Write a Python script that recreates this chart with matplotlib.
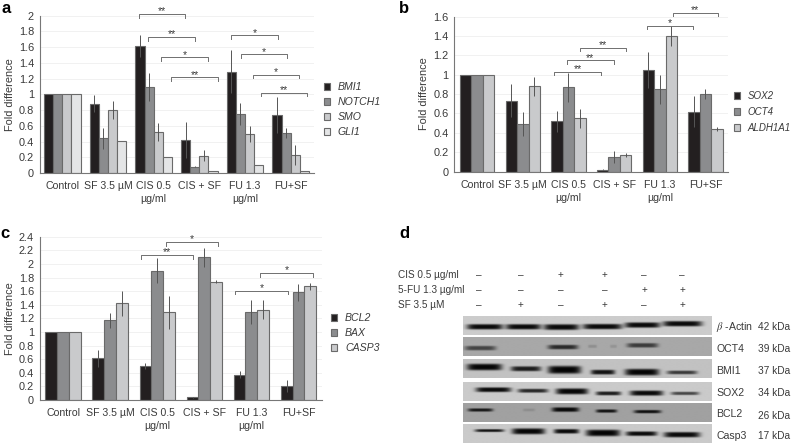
import numpy as np
from matplotlib import pyplot as plt

plt.rcParams['font.family'] = ['Liberation Sans', 'DejaVu Sans']
plt.rcParams['mathtext.fontset'] = 'stix'

W, H = 791, 443
TXT = '#3a3a3a'
COLS = ['#231f20', '#8b8c8e', '#c9cacc', '#e4e5e6']
FS = 7.9
FS_X = 7.6

groups = ['Control', 'SF 3.5 µM', 'CIS 0.5\nµg/ml', 'CIS + SF', 'FU 1.3\nµg/ml', 'FU+SF']

# panel a
a_names = ['BMI1', 'NOTCH1', 'SMO', 'GLI1']
a_vals = [[1, .88, 1.61, .42, 1.29, .74],
          [1, .44, 1.09, .08, .75, .51],
          [1, .80, .52, .22, .50, .23],
          [1, .41, .20, .03, .10, .02]]
a_errs = [[0, .11, .14, .23, .27, .23],
          [0, .13, .18, .01, .14, .06],
          [0, .11, .11, .07, .10, .13],
          [0, 0, 0, 0, 0, 0]]
a_brackets = [(1.67, 2.69, 2.02, '**'), (1.88, 2.91, 1.725, '**'),
              (2.17, 3.18, 1.47, '*'), (2.39, 3.41, 1.216, '**'),
              (3.70, 4.72, 1.75, '*'), (3.91, 4.92, 1.508, '*'),
              (4.18, 5.19, 1.246, '*'), (4.35, 5.36, 1.02, '**')]

# panel b
b_names = ['SOX2', 'OCT4', 'ALDH1A1']
b_vals = [[1, .73, .52, .02, 1.05, .62],
          [1, .49, .87, .15, .85, .80],
          [1, .88, .55, .17, 1.40, .44]]
b_errs = [[0, .17, .11, .005, .19, .16],
          [0, .12, .15, .06, .15, .05],
          [0, .10, .10, .02, .10, .02]]
b_brackets = [(1.69, 2.71, 1.03, '**'), (1.96, 2.99, 1.148, '**'),
              (2.25, 3.26, 1.279, '**'), (3.73, 4.73, 1.507, '*'),
              (4.29, 5.27, 1.638, '**')]

# panel c
c_names = ['BCL2', 'BAX', 'CASP3']
c_vals = [[1, .61, .50, .04, .37, .21],
          [1, 1.17, 1.90, 2.10, 1.29, 1.58],
          [1, 1.42, 1.29, 1.74, 1.33, 1.67]]
c_errs = [[0, .13, .04, .01, .05, .09],
          [0, .11, .18, .14, .18, .12],
          [0, .18, .24, .02, .14, .05]]
c_brackets = [(1.65, 2.77, 2.126, '**'), (2.18, 3.30, 2.32, '*'),
              (3.66, 4.77, 1.608, '*'), (4.19, 5.30, 1.867, '*')]

# panel d
d_treat = ['CIS 0.5 µg/ml', '5-FU 1.3 µg/ml', 'SF 3.5 µM']
d_signs = [['–', '–', '+', '+', '–', '–'],
           ['–', '–', '–', '–', '+', '+'],
           ['–', '+', '–', '+', '–', '+']]
d_proteins = [r'$\beta$ -Actin', 'OCT4', 'BMI1', 'SOX2', 'BCL2', 'Casp3']
d_kda = ['42 kDa', '39 kDa', '37 kDa', '34 kDa', '26 kDa', '17 kDa']
d_back = [.80, .66, .76, .79, .63, .79]
# bands: left, right, centre y, half thickness (px), darkness
d_bands = [
    [(467, 503, 326.7, 2.6, .95), (506, 541, 326.7, 2.6, .95), (544, 579, 327, 2.8, .95),
     (583, 622, 326.5, 2.6, .95), (625, 660, 325, 2.6, .95), (663, 702, 323.7, 2.6, .95)],
    [(465, 496, 348.7, 2.2, .6), (548, 578, 347.7, 2.2, .75), (588, 597, 347, 1.6, .15),
     (610, 617, 347, 1.6, .12), (627, 658, 346, 2.2, .65)],
    [(467, 502, 367, 3.2, .97), (511, 541, 368.7, 2.4, .85), (548, 581, 369.7, 3.8, .98),
     (591, 615, 372, 2.3, .9), (625, 659, 372, 3.2, .97), (667, 697, 372.3, 1.8, .7)],
    [(476, 511, 389.7, 2.3, .95), (518, 548, 390.7, 1.9, .8), (556, 588, 391.3, 2.9, .97),
     (596, 621, 393.3, 1.9, .85), (630, 663, 393, 2.5, .95), (671, 699, 393.3, 1.6, .65)],
    [(468, 493, 410.7, 1.6, .85), (523, 535, 410.7, 1.4, .12), (552, 579, 410.3, 2.2, .95),
     (596, 617, 411.7, 1.6, .88), (634, 661, 412.3, 1.6, .9)],
    [(475, 504, 431, 1.4, .9), (512, 545, 431.7, 2.9, .97), (554, 579, 431.7, 2.2, .95),
     (586, 620, 433.3, 3.2, .98), (626, 657, 434, 2.2, .95), (664, 700, 435, 2.6, .95)],
]


def px_axes(left, right, top, bottom):
    return fig.add_axes([left / W, 1 - bottom / H, (right - left) / W, (bottom - top) / H])


def bar_panel(box, vals, errs, names, brackets, ymax, legend_xy, legend_fs=FS_X, legend_gap=0.47):
    ax = px_axes(*box)
    n = len(vals)
    w = 0.8 / n if n == 4 else 0.25
    x = np.arange(6)
    for i in range(n):
        xp = x + (i - (n - 1) / 2) * w
        ax.bar(xp, vals[i], w, color=COLS[i], edgecolor='#6a6a6a', linewidth=0.8,
               label=names[i], zorder=2)
        e = np.array(errs[i])
        m = e > 0
        ax.errorbar(xp[m], np.array(vals[i])[m], yerr=e[m], fmt='none', ecolor='#555555',
                    elinewidth=0.7, zorder=3)
    ax.set_xlim(-0.5, 5.5)
    ax.set_ylim(0, ymax)
    ticks = np.arange(0, ymax + 0.001, .2)
    ax.set_yticks(ticks)
    ax.set_yticklabels([('%.1f' % t).rstrip('0').rstrip('.') if t else '0' for t in ticks],
                       fontsize=FS, color=TXT)
    ax.set_xticks(x)
    ax.set_xticklabels(groups, fontsize=FS_X, color=TXT, linespacing=1.35, va='top')
    ax.tick_params(axis='both', length=0)
    ax.tick_params(axis='x', pad=6)
    ax.tick_params(axis='y', pad=4)
    ax.set_ylabel('Fold difference', fontsize=FS, color=TXT, labelpad=3)
    ax.grid(axis='y', color='#efefef', linewidth=0.6, zorder=0)
    ax.set_axisbelow(True)
    for s in ['top', 'right']:
        ax.spines[s].set_visible(False)
    for s in ['left', 'bottom']:
        ax.spines[s].set_color('#777777')
        ax.spines[s].set_linewidth(0.8)
    drop = ymax * 0.022
    for x0, x1, y, star in brackets:
        ax.plot([x0, x0, x1, x1], [y - drop, y, y, y - drop], color='#6f6f6f', lw=0.7,
                clip_on=False, zorder=4)
        ax.annotate(star, ((x0 + x1) / 2, y), xytext=(0, 2), textcoords='offset points',
                    ha='center', va='center', fontsize=7.5, color=TXT, zorder=5,
                    annotation_clip=False)
    handles, labels = ax.get_legend_handles_labels()
    fig.legend(handles, labels, loc='upper left', frameon=False,
               prop={'style': 'italic', 'size': legend_fs},
               bbox_to_anchor=(legend_xy[0] / W, 1 - legend_xy[1] / H),
               handlelength=0.6 * FS_X / legend_fs, handleheight=0.6 * FS_X / legend_fs,
               handletextpad=0.72 * FS_X / legend_fs,
               labelspacing=legend_gap, borderpad=0, borderaxespad=0, labelcolor=TXT)
    return ax


fig = plt.figure(figsize=(W / 100, H / 100), dpi=100, facecolor='white')

bar_panel((39.5, 313.5, 15.7, 173), a_vals, a_errs, a_names, a_brackets, 2, (324, 82))
bar_panel((454.3, 728.3, 16.7, 171.5), b_vals, b_errs, b_names, b_brackets, 1.6, (733.5, 91),
          legend_fs=7.0, legend_gap=0.62)
bar_panel((39.5, 322, 236.7, 400), c_vals, c_errs, c_names, c_brackets, 2.4, (331, 313))

# overlay in pixel coordinates for panel letters and the blot
ov = fig.add_axes([0, 0, 1, 1], facecolor='none')

for lab, lx, ly in [('a', 1, 8), ('b', 399, 8), ('c', 0, 233), ('d', 399, 233)]:
    ov.text(lx, ly, lab, fontsize=12, fontweight='bold', color='black', va='center', ha='left')

sign_x = [479, 521, 561, 605, 644, 682]
for row, (name, sy) in enumerate(zip(d_treat, [275, 290, 305])):
    ov.text(398, sy, name, fontsize=7.2, color=TXT, va='center', ha='left')
    for sx, s in zip(sign_x, d_signs[row]):
        ov.text(sx, sy, s, fontsize=7.2, color=TXT, va='center', ha='center')

row_top = [316.3, 338, 359.3, 382.3, 404, 424.7]
row_h = 18.3
blot_l, blot_r = 463.3, 711.7
label_y = [327.5, 349, 371, 393, 414, 436]
kda_y = [327.5, 348.5, 371, 393.5, 416, 436]
for r in range(6):
    xs = np.linspace(blot_l, blot_r, 497)
    ys = np.linspace(row_top[r], row_top[r] + row_h, 74)
    xx, yy = np.meshgrid(xs, ys)
    img = np.full(xx.shape, d_back[r], dtype=float)
    for x0, x1, yc, thick, dark in d_bands[r]:
        mid, half = (x0 + x1) / 2, (x1 - x0) / 2
        band = np.exp(-((xx - mid) / half) ** 6) * np.exp(-((yy - yc) / thick) ** 4)
        img = img * (1 - dark * band)
    ov.imshow(img, extent=(blot_l, blot_r, row_top[r] + row_h, row_top[r]), cmap='gray',
              vmin=0, vmax=1, aspect='auto', interpolation='bilinear', zorder=1)
    ov.text(716.5, label_y[r], d_proteins[r], fontsize=FS_X, color=TXT, va='center', ha='left')
    ov.text(758, kda_y[r], d_kda[r], fontsize=7.3, color=TXT, va='center', ha='left')
ov.set_xlim(0, W)
ov.set_ylim(H, 0)
ov.axis('off')

plt.savefig('out.png', dpi=100)
